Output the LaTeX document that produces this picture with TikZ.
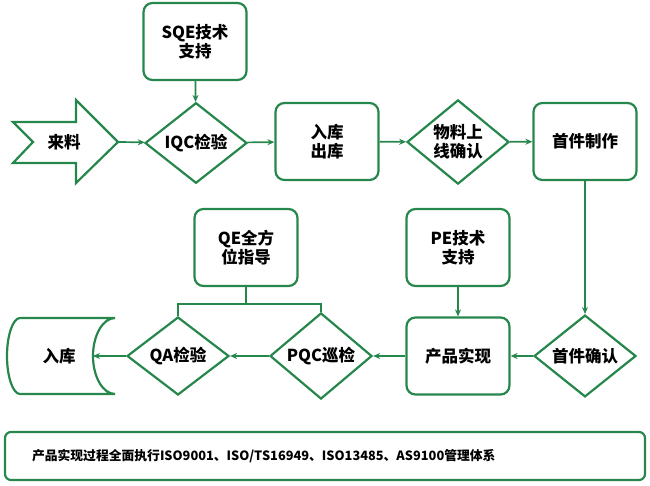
\documentclass[tikz,border=0pt]{standalone}
\usepackage{fontspec}
\setmainfont{Noto Sans CJK SC}
\usepackage{tikz}
\usetikzlibrary{shapes, arrows.meta, positioning, calc}
\definecolor{flowgreen}{RGB}{38, 135, 76}

\begin{document}
\begin{tikzpicture}[x=1pt, y=-1pt,
  font=\bfseries\fontsize{16.5}{19}\selectfont,
  flowbox/.style={draw=flowgreen, line width=2.2pt, rounded corners=9pt, minimum width=103pt, minimum height=77pt, align=center, fill=white},
  checkdia/.style={draw=flowgreen, line width=2.2pt, diamond, minimum width=102pt, minimum height=78pt, inner sep=0pt, align=center, fill=white},
  flowline/.style={draw=flowgreen, line width=1.7pt},
  flowarrow/.style={flowline, -{Stealth[length=7pt, width=6pt]}}]
  \useasboundingbox (0,0) rectangle (650,486);

  % first row
  \draw[flowgreen, line width=2.2pt, line join=miter] (13,122) -- (76,122) -- (76,100) -- (118,142) -- (76,183) -- (76,163) -- (13,163) -- (33,142) -- cycle;
  \node (lailiao) at (64,142) {来料};
  \coordinate (laitip) at (118,142);
  \node[flowbox] (sqe) at (195,41.5) {SQE技术\\支持};
  \node[checkdia] (iqc) at (196,143) {IQC检验};
  \node[flowbox] (kuchu) at (327,141.5) {入库\\出库};
  \node[checkdia] (shangxian) at (458,142) {物料上\\线确认};
  \node[flowbox] (shoujian) at (585,141.5) {首件制作};

  % second row
  \node[flowbox] (qe) at (246,247.5) {QE全方\\位指导};
  \node[flowbox] (pe) at (458,247.5) {PE技术\\支持};
  \node[checkdia] (queren) at (585,356) {首件确认};
  \node[flowbox] (shixian) at (458,356) {产品实现};
  \node[checkdia] (pqc) at (321,356) {PQC巡检};
  \node[checkdia] (qa) at (178,356) {QA检验};
  \draw[flowgreen, line width=2.2pt] (20,318) -- (115,318) .. controls (103,318) and (93,335) .. (93,356) .. controls (93,377) and (103,394) .. (115,394) -- (20,394) .. controls (13,394) and (7,377) .. (7,356) .. controls (7,335) and (13,318) .. (20,318) -- cycle;
  \node (ruku) at (59,356) {入库};
  \coordinate (rukuin) at (93,356);

  \node[draw=flowgreen, line width=2.2pt, rounded corners=6pt, minimum width=640pt, minimum height=48pt, inner xsep=27pt, text width=586pt, align=left, font=\bfseries\fontsize{12.8}{15}\selectfont] (tixi) at (325,456) {产品实现过程全面执行ISO9001、ISO/TS16949、ISO13485、AS9100管理体系};

  \draw[flowarrow] (laitip) -- (iqc);
  \draw[flowarrow] (sqe) -- (iqc);
  \draw[flowarrow] (iqc) -- (kuchu);
  \draw[flowarrow] (kuchu) -- (shangxian);
  \draw[flowarrow] (shangxian) -- (shoujian);
  \draw[flowarrow] (shoujian) -- (queren);
  \draw[flowarrow] (queren) -- (shixian);
  \draw[flowarrow] (pe) -- (shixian);
  \draw[flowarrow] (shixian) -- (pqc);
  \draw[flowarrow] (pqc) -- (qa);
  \draw[flowarrow] (qa) -- (rukuin);
  \draw[flowline] (qe.south) -- ++(0,17) coordinate (qefork);
  \draw[flowline] (qa.north) |- (qefork) -| (pqc.north);
\end{tikzpicture}
\end{document}
